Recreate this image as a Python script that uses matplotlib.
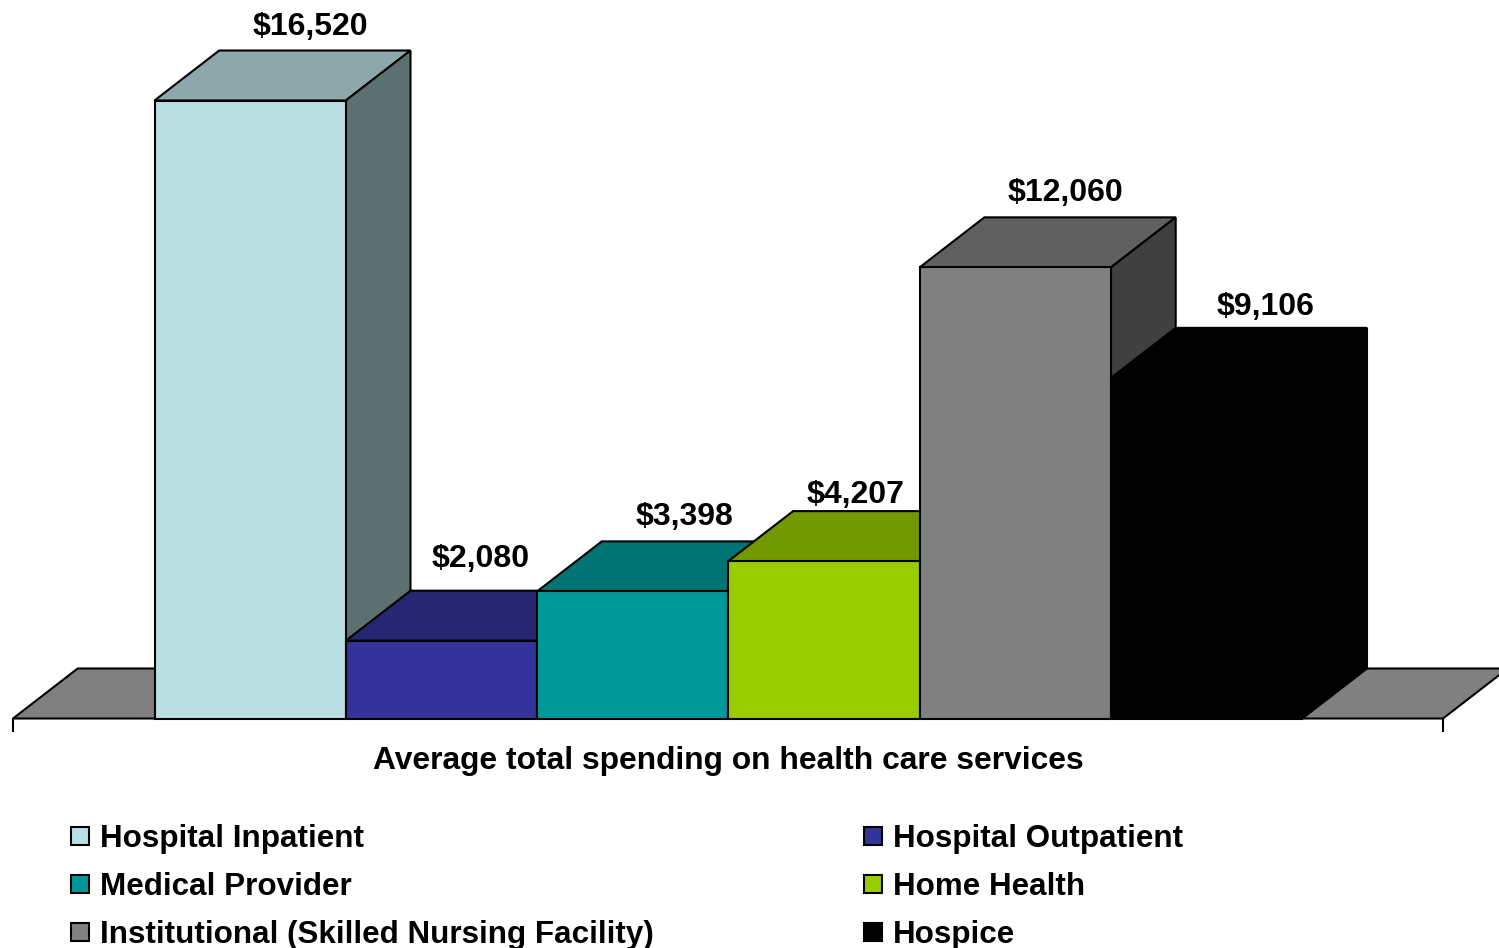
import matplotlib
matplotlib.use('Agg')
import matplotlib.pyplot as plt
from matplotlib.patches import Polygon, Rectangle
from matplotlib.lines import Line2D

categories = ['Hospital Inpatient', 'Hospital Outpatient', 'Medical Provider',
              'Home Health', 'Institutional (Skilled Nursing Facility)', 'Hospice']
values = [16520, 2080, 3398, 4207, 12060, 9106]
bar_labels = ['$16,520', '$2,080', '$3,398', '$4,207', '$12,060', '$9,106']
axis_label = 'Average total spending on health care services'
front_colors = ['#B9E0E2', '#333399', '#009999', '#99CC00', '#808080', '#000000']
top_colors = ['#8CA8AA', '#262673', '#007373', '#739900', '#606060', '#000000']
side_colors = ['#5D7071', '#1A1A4D', '#004D4D', '#4D6600', '#404040', '#000000']
# pixel nudges of the value labels from the centre of the box top
label_dx = [-4, -26, -13, -33, -15, -6]
label_dy = [24, 32, 24, 16, 24, 21]

W, H = 1499, 948
BASE_PX = 718.5
LEFT_PX = 154.5
BAR_PX = 191.3
PX_PER_USD = 618.0 / 16520
DX = 64.7 / BAR_PX      # depth of the box in x units
DY = 50.0 / PX_PER_USD  # depth of the box in dollars

plt.rcParams['font.family'] = ['Liberation Sans', 'DejaVu Sans']
plt.rcParams['font.weight'] = 'bold'
plt.rcParams['font.size'] = 23

fig = plt.figure(figsize=(W / 100, H / 100), dpi=100)
ax = fig.add_axes([0, 0, 1, 1])
# x in bar widths, y in dollars, set up so the whole figure is the axes
ax.set_xlim(-LEFT_PX / BAR_PX, (W - LEFT_PX) / BAR_PX)
ax.set_ylim(-(H - BASE_PX) / PX_PER_USD, BASE_PX / PX_PER_USD)
ax.axis('off')

def box(x0, x1, val, front, top, side):
    lw = 1.5
    ax.add_patch(Polygon([(x0, val), (x0 + DX, val + DY), (x1 + DX, val + DY), (x1, val)],
                         fc=top, ec='black', lw=lw, joinstyle='miter'))
    ax.add_patch(Polygon([(x1, 0), (x1 + DX, DY), (x1 + DX, val + DY), (x1, val)],
                         fc=side, ec='black', lw=lw, joinstyle='miter'))
    ax.add_patch(Rectangle((x0, 0), x1 - x0, val, fc=front, ec='black', lw=lw))

# floor
fl0 = (13 - LEFT_PX) / BAR_PX
fl1 = (1443 - LEFT_PX) / BAR_PX
ax.add_patch(Polygon([(fl0, 0), (fl0 + DX, DY), (fl1 + DX, DY), (fl1, 0)],
                     fc='#808080', ec='black', lw=1.5, joinstyle='miter'))
tick = 12 / PX_PER_USD
ax.plot([fl0, fl0], [0, -tick], color='black', lw=1.5)
ax.plot([fl1, fl1], [0, -tick], color='black', lw=1.5)

for i, val in enumerate(values):
    box(i, i + 1, val, front_colors[i], top_colors[i], side_colors[i])
    ax.text(i + 0.5 + DX + label_dx[i] / BAR_PX, val + DY + label_dy[i] / PX_PER_USD,
            bar_labels[i], ha='center', va='center')

ax.text((fl0 + fl1) / 2, -42 / PX_PER_USD, axis_label, ha='center', va='center', fontsize=22.9)

handles = [Line2D([], [], ls='none', marker='s', ms=13, mfc=c, mec='black', mew=1.5)
           for c in front_colors]
# ncol fills by column, so reorder to read across the rows
order = [0, 2, 4, 1, 3, 5]
leg = ax.legend([handles[i] for i in order], [categories[i] for i in order], ncol=2,
                frameon=False, loc='upper left', bbox_to_anchor=(60 / W, 1 - 824 / H),
                bbox_transform=fig.transFigure, borderpad=0, borderaxespad=0, fontsize=22.6,
                handletextpad=0.0, handlelength=1.28, labelspacing=0.58, columnspacing=6.32)

fig.savefig('out.png', dpi=100)
